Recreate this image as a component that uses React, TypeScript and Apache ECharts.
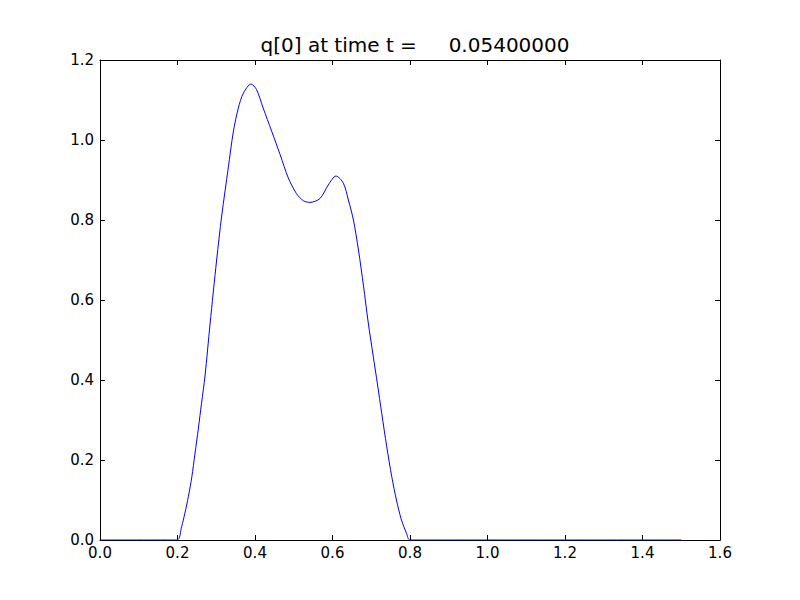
import React, { useEffect, useRef } from "react";
import * as echarts from "echarts";

const titleText = "q[0] at time t =     0.05400000";
const xValues = [0.0, 0.198, 0.2105, 0.219, 0.228, 0.237, 0.245, 0.254, 0.262, 0.271, 0.284, 0.301, 0.314, 0.331, 0.344, 0.357, 0.370, 0.390, 0.404, 0.421, 0.443, 0.465, 0.486, 0.507, 0.525, 0.542, 0.568, 0.589, 0.609, 0.628, 0.641, 0.654, 0.667, 0.680, 0.692, 0.705, 0.716, 0.727, 0.740, 0.753, 0.765, 0.778, 0.791, 0.800, 1.5];
const qValues = [0.0, 0.0, 0.033, 0.067, 0.108, 0.158, 0.215, 0.28, 0.342, 0.41, 0.54, 0.70, 0.81, 0.93, 1.02, 1.08, 1.117, 1.14, 1.126, 1.08, 1.022, 0.963, 0.905, 0.866, 0.848, 0.844, 0.854, 0.8875, 0.91, 0.892, 0.85, 0.80, 0.725, 0.635, 0.545, 0.46, 0.39, 0.317, 0.233, 0.158, 0.10, 0.05, 0.017, 0.0, 0.0];

export default function App() {
  const ref = useRef<HTMLDivElement>(null);
  useEffect(() => {
    const chart = echarts.init(ref.current!, undefined, { renderer: "svg" });
    const font = "DejaVu Sans";
    const axisLine = { show: true, onZero: false, lineStyle: { color: "#000", width: 1 } };
    const tick = { show: true, inside: true, length: 5, lineStyle: { color: "#000", width: 1 } };
    chart.setOption({
      animation: false,
      backgroundColor: "#fff",
      title: {
        text: titleText,
        left: 410,
        top: 30,
        textAlign: "center",
        textStyle: { fontFamily: font, fontSize: 20, fontWeight: "normal", color: "#000" },
      },
      grid: { left: 100, right: 80, top: 60, bottom: 60 },
      xAxis: [
        {
          type: "value", min: 0, max: 1.6, interval: 0.2, position: "bottom",
          axisLine, axisTick: tick, splitLine: { show: false },
          axisLabel: { color: "#000", fontFamily: font, fontSize: 15, margin: 5, formatter: (v: number) => v.toFixed(1) },
        },
        {
          type: "value", min: 0, max: 1.6, interval: 0.2, position: "top",
          axisLine, axisTick: tick, splitLine: { show: false }, axisLabel: { show: false },
        },
      ],
      yAxis: [
        {
          type: "value", min: 0, max: 1.2, interval: 0.2, position: "left",
          axisLine, axisTick: tick, splitLine: { show: false },
          axisLabel: { color: "#000", fontFamily: font, fontSize: 15, margin: 6, formatter: (v: number) => v.toFixed(1) },
        },
        {
          type: "value", min: 0, max: 1.2, interval: 0.2, position: "right",
          axisLine, axisTick: tick, splitLine: { show: false }, axisLabel: { show: false },
        },
      ],
      series: [
        {
          type: "line",
          data: xValues.map((x, i) => [x, qValues[i]]),
          showSymbol: false,
          smooth: 0.3,
          lineStyle: { color: "#0000ff", width: 1 },
          itemStyle: { color: "#0000ff" },
          xAxisIndex: 0,
          yAxisIndex: 0,
          z: 1,
        },
      ],
    });
    return () => chart.dispose();
  }, []);
  return <div ref={ref} style={{ position: "fixed", left: 0, top: 0, width: 800, height: 600 }} />;
}
